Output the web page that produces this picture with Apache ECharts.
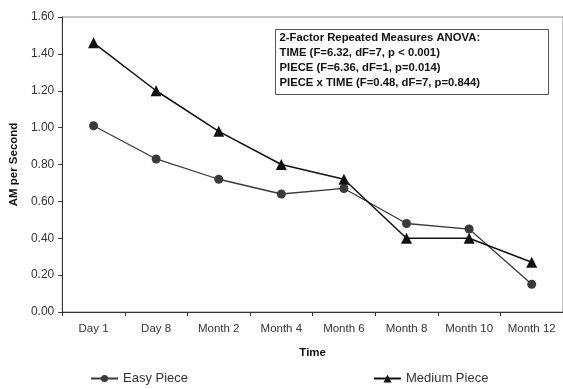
<!DOCTYPE html>
<html>
<head>
<meta charset="utf-8">
<script src="https://cdn.jsdelivr.net/npm/echarts@6/dist/echarts.min.js"></script>
<style>
html,body{margin:0;padding:0;background:#fff;overflow:hidden;}
#c{width:563px;height:389px;}
</style>
</head>
<body>
<div id="c"></div>
<script>
var categories = ['Day 1','Day 8','Month 2','Month 4','Month 6','Month 8','Month 10','Month 12'];
var easyPiece = [1.01, 0.83, 0.72, 0.64, 0.67, 0.48, 0.45, 0.15];
var mediumPiece = [1.46, 1.20, 0.98, 0.80, 0.72, 0.40, 0.40, 0.27];
var seriesNames = ['Easy Piece', 'Medium Piece'];
var annotationLines = [
  '2-Factor Repeated Measures ANOVA:',
  'TIME (F=6.32, dF=7, p < 0.001)',
  'PIECE (F=6.36, dF=1, p=0.014)',
  'PIECE x TIME (F=0.48, dF=7, p=0.844)'
];
var xTitle = 'Time';
var yTitle = 'AM per Second';

var chart = echarts.init(document.getElementById('c'), null, {renderer:'canvas'});
var font = 'Liberation Sans, Arial, sans-serif';
var textEls = annotationLines.map(function(t, i){
  return {type:'text', left: 4, top: 3 + i*15,
    style:{text:t, font:'bold 11.3px ' + font, fill:'#111'}};
});
var option = {
  animation:false,
  backgroundColor:'#fff',
  grid:{left:58, top:17, right:-3, bottom:77, show:true, borderColor:'#8a8a8a', borderWidth:1},
  xAxis:{
    type:'category', data:categories, boundaryGap:true,
    name:xTitle, nameLocation:'middle', nameGap:35,
    nameTextStyle:{fontFamily:font, fontWeight:'bold', fontSize:11.5, color:'#111'},
    axisLine:{lineStyle:{color:'#333', width:1}},
    axisTick:{show:true, length:4, lineStyle:{color:'#333'}},
    axisLabel:{fontFamily:font, fontSize:11.5, color:'#333', margin:11}
  },
  yAxis:{
    type:'value', min:0, max:1.6, interval:0.2,
    name:yTitle, nameLocation:'middle', nameGap:41, nameRotate:90,
    nameTextStyle:{fontFamily:font, fontWeight:'bold', fontSize:11.5, color:'#111'},
    axisLine:{show:true, lineStyle:{color:'#333', width:1}},
    axisTick:{show:true, length:4, lineStyle:{color:'#333'}},
    axisLabel:{fontFamily:font, fontSize:12, color:'#333', margin:8,
      formatter:function(v){return v.toFixed(2);}},
    splitLine:{show:false}
  },
  legend:[
    {data:[seriesNames[0]], left:90, top:372, padding:0, itemWidth:27, itemHeight:9, itemGap:4,
     textStyle:{fontFamily:font, fontSize:13, color:'#333'}},
    {data:[seriesNames[1]], left:373, top:372, padding:0, itemWidth:27, itemHeight:10, itemGap:3,
     textStyle:{fontFamily:font, fontSize:13, color:'#333'}}
  ],
  series:[
    {name:seriesNames[0], type:'line', data:easyPiece, symbol:'circle', symbolSize:9,
     lineStyle:{color:'#3a3a3a', width:1.3}, itemStyle:{color:'#3a3a3a'}},
    {name:seriesNames[1], type:'line', data:mediumPiece, symbol:'triangle', symbolSize:11,
     lineStyle:{color:'#111', width:1.5}, itemStyle:{color:'#111'}}
  ],
  graphic:[{
    type:'group', left:275, top:29,
    children:[{type:'rect', shape:{x:0, y:0, width:273, height:65},
      style:{fill:'#fff', stroke:'#555', lineWidth:1}}].concat(textEls)
  }]
};
chart.setOption(option);
</script>
</body>
</html>
